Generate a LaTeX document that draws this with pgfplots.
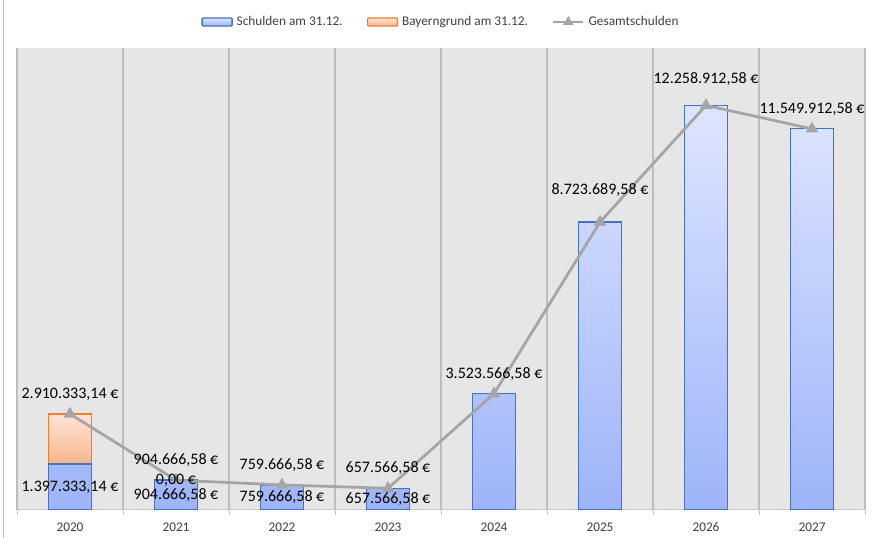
\documentclass[border=0pt]{standalone}
\usepackage{fontspec}
\setmainfont{Carlito}
\usepackage{pgfplots}
\usepackage{pgfplotstable}
\pgfplotsset{compat=1.18}

\definecolor{bgc}{HTML}{E6E6E6}
\definecolor{gridc}{HTML}{BDBDBD}
\definecolor{axc}{HTML}{C8C8C8}
\definecolor{blueE}{HTML}{4472C4}
\definecolor{blueT}{HTML}{DEE5FF}
\definecolor{blueB}{HTML}{9DB4F8}
\definecolor{orE}{HTML}{ED7D31}
\definecolor{orT}{HTML}{FEE4D7}
\definecolor{orB}{HTML}{F8B68C}
\definecolor{linec}{HTML}{A5A5A5}
\definecolor{txtc}{HTML}{404040}

\pgfplotsset{
  barlegend/.style={legend image code/.code={\draw[##1, rounded corners=1bp] (0bp,-4bp) rectangle (30bp,4bp);}},
  linelegend/.style={legend image code/.code={\draw[##1, sharp plot, mark repeat=2, mark phase=2] plot coordinates {(0bp,0bp) (15bp,0bp) (30bp,0bp)};}},
  frame/.style={
    at={(17bp,28bp)}, anchor=south west,
    scale only axis, width=848bp, height=462bp,
    xmin=-0.5, xmax=7.5, ymin=0, ymax=14000000,
  },
}

% Schulden am 31.12. (Balken)
\pgfplotstableread{
x schulden
0 1397333.14
1 904666.58
2 759666.58
3 657566.58
4 3523566.58
5 8723689.58
6 12258912.58
7 11549912.58
}\schulden

% Gesamtschulden, Abstand der Beschriftung in bp
\pgfplotstableread{
x gesamt off lab
0 2910333.14 20 {2.910.333,14 €}
1 904666.58 20 {904.666,58 €}
2 759666.58 20 {759.666,58 €}
3 657566.58 20 {657.566,58 €}
4 3523566.58 20 {3.523.566,58 €}
5 8723689.58 32 {8.723.689,58 €}
6 12258912.58 26 {12.258.912,58 €}
7 11549912.58 20 {11.549.912,58 €}
}\gesamt

% Balkenbeschriftungen (Mitte des Balkens)
\pgfplotstableread{
x y lab
0 698666.57 {1.397.333,14 €}
1 452333.29 {904.666,58 €}
2 379833.29 {759.666,58 €}
3 328783.29 {657.566,58 €}
}\barlab

\begin{document}
\begin{tikzpicture}
\useasboundingbox (0,0) rectangle (876bp,538bp);
\draw[axc, line width=1bp] (3bp,0bp) -- (3bp,538bp);

\begin{axis}[
    frame,
    ybar stacked, bar width=43bp,
    axis background/.style={fill=bgc},
    axis x line*=bottom, axis y line=none,
    x axis line style={draw=axc, line width=1bp},
    xtick={0,...,7},
    xticklabels={2020,2021,2022,2023,2024,2025,2026,2027},
    major tick length=0pt,
    minor xtick={-0.5,0.5,...,7.5},
    minor tick length=5bp,
    tick align=outside,
    minor tick style={draw=axc, line width=1bp},
    xminorgrids,
    minor grid style={draw=gridc, line width=1.2bp},
    ticklabel style={font=\fontsize{13.3bp}{16bp}\selectfont, text=txtc},
    xticklabel style={yshift=-9bp},
    legend columns=3,
    legend style={at={(0.5,1)}, anchor=center, yshift=26bp, draw=none, fill=none,
      font=\fontsize{13.3bp}{16bp}\selectfont, text=txtc,
      /tikz/every odd column/.append style={column sep=2bp},
      /tikz/every even column/.append style={column sep=22bp}},
]
\addplot[draw=blueE, line width=1.3bp, top color=blueT, bottom color=blueB, barlegend]
  table[x=x, y=schulden] {\schulden};
\addlegendentry{Schulden am 31.12.}
\addplot[draw=orE, line width=1.3bp, top color=orT, bottom color=orB, barlegend]
  coordinates {(0,1513000.00)};
\addlegendentry{Bayerngrund am 31.12.}
\addlegendimage{linelegend, color=linec, line width=2.5bp, mark=triangle*, mark size=3.5bp}
\addlegendentry{Gesamtschulden}
\end{axis}

\begin{axis}[
    frame, hide axis, clip=false,
]
\addplot[color=linec, line width=2.75bp, mark=triangle*, mark size=4.5bp,
    nodes near coords, nodes near coords align={center},
    point meta=explicit symbolic,
    visualization depends on={\thisrow{off} \as \off},
    every node near coord/.append style={yshift=\off bp, text=black,
      font=\fontsize{16bp}{19bp}\selectfont}]
  table[x=x, y=gesamt, meta=lab] {\gesamt};
\addplot[draw=none, mark=none,
    nodes near coords, nodes near coords align={center},
    point meta=explicit symbolic,
    every node near coord/.append style={text=black,
      font=\fontsize{16bp}{19bp}\selectfont}]
  table[x=x, y=y, meta=lab] {\barlab};
\addplot[draw=none, mark=none,
    nodes near coords, nodes near coords align={center},
    point meta=explicit symbolic,
    every node near coord/.append style={text=black,
      font=\fontsize{16bp}{19bp}\selectfont}]
  coordinates {(1,904666.58) [{0,00 €}]};
\end{axis}
\end{tikzpicture}
\end{document}
